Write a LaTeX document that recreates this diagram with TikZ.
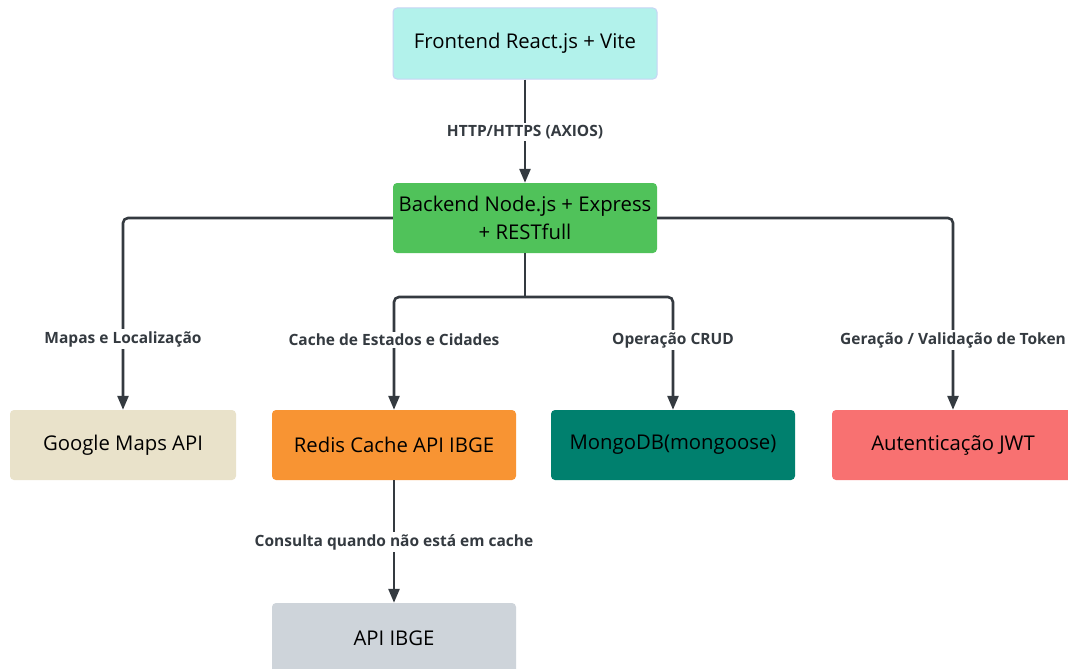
\documentclass[tikz,border=0pt]{standalone}
\usepackage{fontspec}
\setmainfont{Open Sans}
\usetikzlibrary{arrows.meta}
\definecolor{cline}{HTML}{343A40}
\definecolor{cfront}{HTML}{B2F2EB}
\definecolor{cfrontb}{HTML}{C8D4F5}
\definecolor{cback}{HTML}{50C25A}
\definecolor{cgoogle}{HTML}{E9E2CA}
\definecolor{credis}{HTML}{F89433}
\definecolor{cmongo}{HTML}{00806E}
\definecolor{cjwt}{HTML}{F87171}
\definecolor{cibge}{HTML}{CED4DA}
\tikzset{
  box/.style={rectangle, rounded corners=4pt, minimum height=70pt, align=center,
    text=black, font=\fontsize{20.3}{28}\selectfont, inner sep=0pt},
  conn/.style={draw=cline, line width=2.6pt, rounded corners=5pt,
    -{Triangle[width=11pt,length=14pt]}},
  line/.style={draw=cline, line width=2.6pt, rounded corners=5pt},
  lbl/.style={fill=white, text=cline, font=\fontsize{15.5}{18}\selectfont\bfseries, inner sep=2pt}
}
\begin{document}
\begin{tikzpicture}[x=1pt,y=-1pt]
\clip (0,0) rectangle (1068,669);
\fill[white] (0,0) rectangle (1068,669);
\node[box, fill=cfront, draw=cfrontb, line width=1pt, minimum width=264pt, minimum height=71pt] (front) at (525,43.5) {Frontend React.js + Vite};
\node[box, fill=cback, minimum width=264pt] (back) at (525,218) {Backend Node.js + Express\\+ RESTfull};
\node[box, fill=cgoogle, minimum width=226pt] (google) at (123,445) {Google Maps API};
\node[box, fill=credis, minimum width=244pt] (redis) at (394,445) {Redis Cache API IBGE};
\node[box, fill=cmongo, minimum width=244pt] (mongo) at (673,445) {MongoDB(mongoose)};
\node[box, fill=cjwt, minimum width=242pt] (jwt) at (953,445) {Autenticação JWT};
\node[box, fill=cibge, minimum width=244pt] (ibge) at (394,638) {API IBGE};

\coordinate (fork) at (525,297);

\draw[conn] (front) -- (back);
\draw[conn] (back.west) -| (google.north);
\draw[conn] (back.east) -| (jwt.north);
\draw[line] (back.south) -- (fork);
\draw[conn] (fork) -| (redis.north);
\draw[conn] (fork) -| (mongo.north);
\draw[conn] (redis) -- (ibge);

\node[lbl] (l1) at (525,132) {HTTP/HTTPS (AXIOS)};
\node[lbl] (l2) at (123,339) {Mapas e Localização};
\node[lbl] (l3) at (394,340) {Cache de Estados e Cidades};
\node[lbl] (l4) at (673,340) {Operação CRUD};
\node[lbl] (l5) at (953,340) {Geração / Validação de Token};
\node[lbl] (l6) at (394,542) {Consulta quando não está em cache};
\end{tikzpicture}
\end{document}
